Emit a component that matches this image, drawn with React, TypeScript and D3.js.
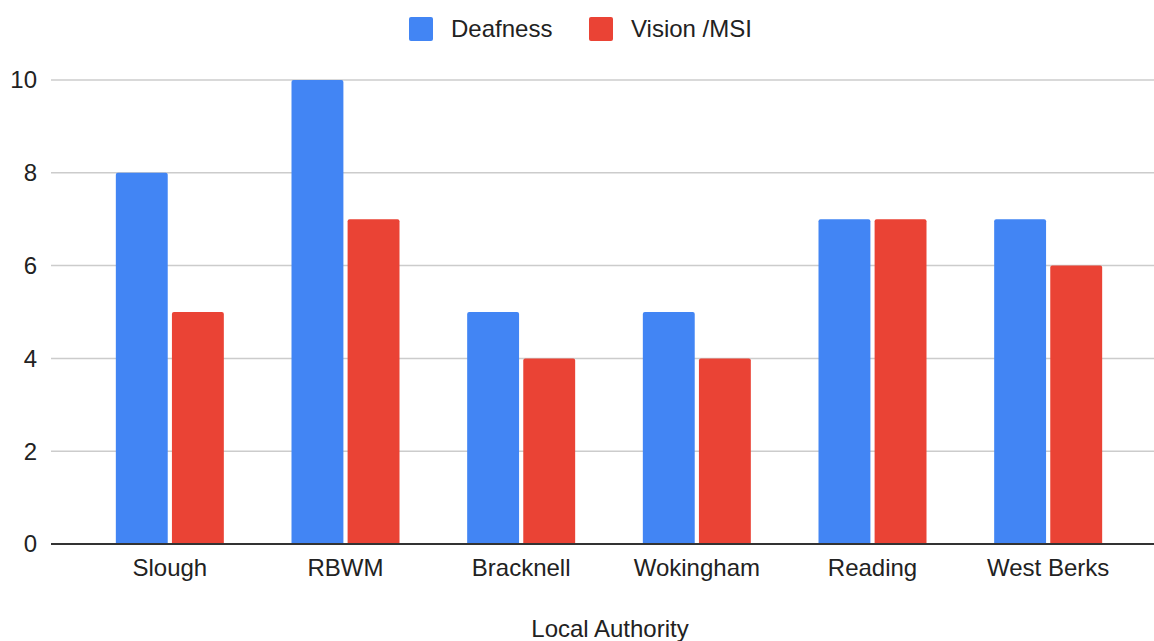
import * as d3 from "d3";

const WIDTH = 1154;
const HEIGHT = 641;
const MARGIN = { top: 80, right: 0, bottom: 97, left: 51 };

const categories = ["Slough", "RBWM", "Bracknell", "Wokingham", "Reading", "West Berks"];
const seriesNames = ["Deafness", "Vision /MSI"];
const deafness = [8, 10, 5, 5, 7, 7];
const visionMsi = [5, 7, 4, 4, 7, 6];
const yTicks = [0, 2, 4, 6, 8, 10];
const colors = ["#4285f4", "#ea4335"];
const FONT = "'Liberation Sans', Arial, sans-serif";

// top-rounded bar path
const barPath = (x: number, y: number, w: number, h: number, r: number) =>
  `M${x},${y + h}V${y + r}Q${x},${y} ${x + r},${y}H${x + w - r}Q${x + w},${y} ${x + w},${y + r}V${y + h}Z`;

export default function App() {
  const values = [deafness, visionMsi];

  const x = d3.scaleBand<string>().domain(categories).range([82, 1136]);
  const xInner = d3.scaleBand<string>().domain(seriesNames).range([0, 108]).paddingInner(0.075);
  const y = d3.scaleLinear().domain([0, 10]).range([544, MARGIN.top]);

  return (
    <svg width={WIDTH} height={HEIGHT} style={{ position: "absolute", left: 0, top: 0, background: "#fff" }}>
      {/* legend */}
      <g fontFamily={FONT} fontSize={24} fill="#222">
        <rect x={409} y={17} width={24} height={24} rx={2} fill={colors[0]} />
        <text x={451} y={37}>{seriesNames[0]}</text>
        <rect x={589} y={17} width={24} height={24} rx={2} fill={colors[1]} />
        <text x={631} y={37}>{seriesNames[1]}</text>
      </g>

      {/* gridlines */}
      {yTicks.filter((t) => t !== 0).map((t) => (
        <line key={t} x1={MARGIN.left} x2={WIDTH} y1={y(t)} y2={y(t)} stroke="#cccccc" strokeWidth={1.5} />
      ))}

      {/* y tick labels */}
      {yTicks.map((t) => (
        <text key={t} x={37} y={y(t)} dy="0.35em" textAnchor="end" fontFamily={FONT} fontSize={24} fill="#222">
          {t}
        </text>
      ))}

      {/* bars */}
      {categories.map((c, i) => {
        const gx = x(c)! + (x.bandwidth() - 108) / 2;
        return (
          <g key={c}>
            {seriesNames.map((s, j) => {
              const v = values[j][i];
              const bx = gx + xInner(s)!;
              const by = y(v);
              return <path key={s} d={barPath(bx, by, xInner.bandwidth(), y(0) - by, 2)} fill={colors[j]} />;
            })}
          </g>
        );
      })}

      {/* baseline */}
      <line x1={MARGIN.left} x2={WIDTH} y1={y(0)} y2={y(0)} stroke="#333" strokeWidth={2} />

      {/* category labels */}
      {categories.map((c) => (
        <text
          key={c}
          x={x(c)! + x.bandwidth() / 2}
          y={576}
          textAnchor="middle"
          fontFamily={FONT}
          fontSize={24}
          fill="#222"
        >
          {c}
        </text>
      ))}

      {/* axis title */}
      <text x={610} y={637} textAnchor="middle" fontFamily={FONT} fontSize={24} fill="#222">
        Local Authority
      </text>
    </svg>
  );
}
